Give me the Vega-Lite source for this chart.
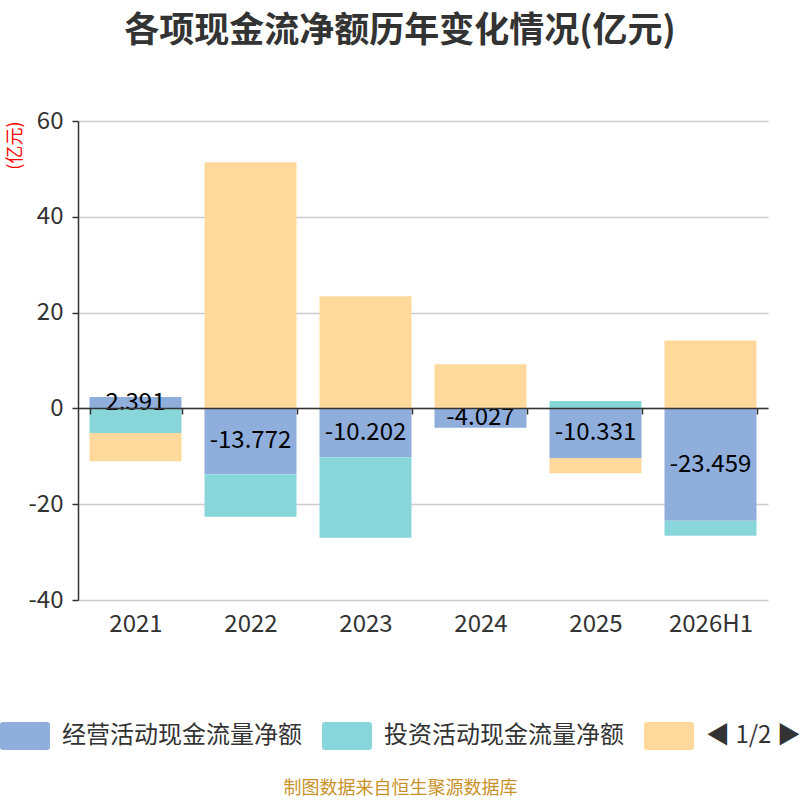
{
  "$schema": "https://vega.github.io/schema/vega-lite/v6.json",
  "description": "各项现金流净额历年变化情况",
  "autosize": {"type": "none"},
  "width": 690,
  "height": 479,
  "padding": {"left": 78, "top": 121, "right": 32, "bottom": 200},
  "background": "white",
  "config": {
    "font": "Noto Sans CJK SC",
    "view": {"stroke": null}
  },
  "title": {
    "text": "各项现金流净额历年变化情况(亿元)",
    "fontSize": 35,
    "fontWeight": "bold",
    "color": "#333333",
    "anchor": "middle",
    "dx": -23,
    "offset": 60
  },
  "data": {
    "values": [
      {"year": "2021", "series": "经营活动现金流量净额", "v": 2.391, "k": 1},
      {"year": "2021", "series": "投资活动现金流量净额", "v": -5.16, "k": 2},
      {"year": "2021", "series": "筹资活动现金流量净额", "v": -5.86, "k": 3},
      {"year": "2022", "series": "经营活动现金流量净额", "v": -13.772, "k": 1},
      {"year": "2022", "series": "投资活动现金流量净额", "v": -8.87, "k": 2},
      {"year": "2022", "series": "筹资活动现金流量净额", "v": 51.4, "k": 3},
      {"year": "2023", "series": "经营活动现金流量净额", "v": -10.202, "k": 1},
      {"year": "2023", "series": "投资活动现金流量净额", "v": -16.8, "k": 2},
      {"year": "2023", "series": "筹资活动现金流量净额", "v": 23.4, "k": 3},
      {"year": "2024", "series": "经营活动现金流量净额", "v": -4.027, "k": 1},
      {"year": "2024", "series": "投资活动现金流量净额", "v": 0, "k": 2},
      {"year": "2024", "series": "筹资活动现金流量净额", "v": 9.2, "k": 3},
      {"year": "2025", "series": "经营活动现金流量净额", "v": -10.331, "k": 1},
      {"year": "2025", "series": "投资活动现金流量净额", "v": 1.53, "k": 2},
      {"year": "2025", "series": "筹资活动现金流量净额", "v": -3.2, "k": 3},
      {"year": "2026H1", "series": "经营活动现金流量净额", "v": -23.459, "k": 1},
      {"year": "2026H1", "series": "投资活动现金流量净额", "v": -3.15, "k": 2},
      {"year": "2026H1", "series": "筹资活动现金流量净额", "v": 14.2, "k": 3}
    ]
  },
  "encoding": {
    "x": {
      "field": "year",
      "type": "nominal",
      "sort": null,
      "scale": {"paddingInner": 0.2, "paddingOuter": 0.1},
      "axis": {
        "title": "制图数据来自恒生聚源数据库",
        "titleColor": "#c8922a",
        "titleFontSize": 18,
        "titleFontWeight": "normal",
        "titleBaseline": "middle",
        "titleX": 322,
        "titleY": 380,
        "offset": -192,
        "zindex": 1,
        "domainColor": "#333333",
        "domainWidth": 1.5,
        "tickBand": "extent",
        "tickColor": "#333333",
        "tickSize": 6,
        "tickWidth": 1.5,
        "labelAngle": 0,
        "labelFontSize": 24,
        "labelColor": "#333333",
        "labelPadding": 198
      }
    }
  },
  "layer": [
    {
      "mark": {"type": "bar"},
      "encoding": {
        "y": {
          "field": "v",
          "type": "quantitative",
          "stack": "zero",
          "scale": {"domain": [-40, 60], "nice": false},
          "axis": {
            "values": [-40, -20, 0, 20, 40, 60],
            "labelExpr": "toString(datum.value)",
            "title": "(亿元)",
            "titleColor": "red",
            "titleFontSize": 18,
            "titleFontWeight": "normal",
            "titleAnchor": "end",
            "titleAngle": -90,
            "titleAlign": "right",
            "titleBaseline": "middle",
            "titleX": -63,
            "titleY": 0,
            "domainColor": "#333333",
            "domainWidth": 1.5,
            "tickColor": "#333333",
            "tickSize": 6,
            "tickWidth": 1.5,
            "labelFontSize": 24,
            "labelColor": "#333333",
            "labelPadding": 9,
            "gridColor": "#cccccc",
            "gridWidth": 1.5
          }
        },
        "color": {
          "field": "series",
          "type": "nominal",
          "scale": {
            "domain": ["经营活动现金流量净额", "投资活动现金流量净额", "筹资活动现金流量净额"],
            "range": ["#8faedc", "#88d6d9", "#fed99b"]
          },
          "legend": {
            "title": null,
            "orient": "none",
            "direction": "horizontal",
            "legendX": -78,
            "legendY": 590,
            "symbolType": "M-0.88,-0.56 L0.88,-0.56 Q1,-0.56 1,-0.44 L1,0.44 Q1,0.56 0.88,0.56 L-0.88,0.56 Q-1,0.56 -1,0.44 L-1,-0.44 Q-1,-0.56 -0.88,-0.56 Z",
            "symbolSize": 2500,
            "symbolStrokeWidth": 0,
            "symbolOpacity": 1,
            "labelFontSize": 24,
            "labelColor": "#333333",
            "labelOffset": 12,
            "labelLimit": 300,
            "columnPadding": 20,
            "labelExpr": "datum.label == '筹资活动现金流量净额' ? '◀ 1/2 ▶' : datum.label"
          }
        },
        "order": {"field": "k", "type": "quantitative"}
      }
    },
    {
      "transform": [{"filter": "datum.k == 1"}],
      "mark": {"type": "text", "fontSize": 24, "color": "#000000", "baseline": "middle"},
      "encoding": {
        "y": {
          "field": "v",
          "type": "quantitative",
          "stack": null,
          "scale": {"domain": [-80, 120], "nice": false},
          "axis": null
        },
        "text": {"field": "v", "type": "nominal"}
      }
    }
  ],
  "resolve": {"scale": {"y": "independent"}}
}
